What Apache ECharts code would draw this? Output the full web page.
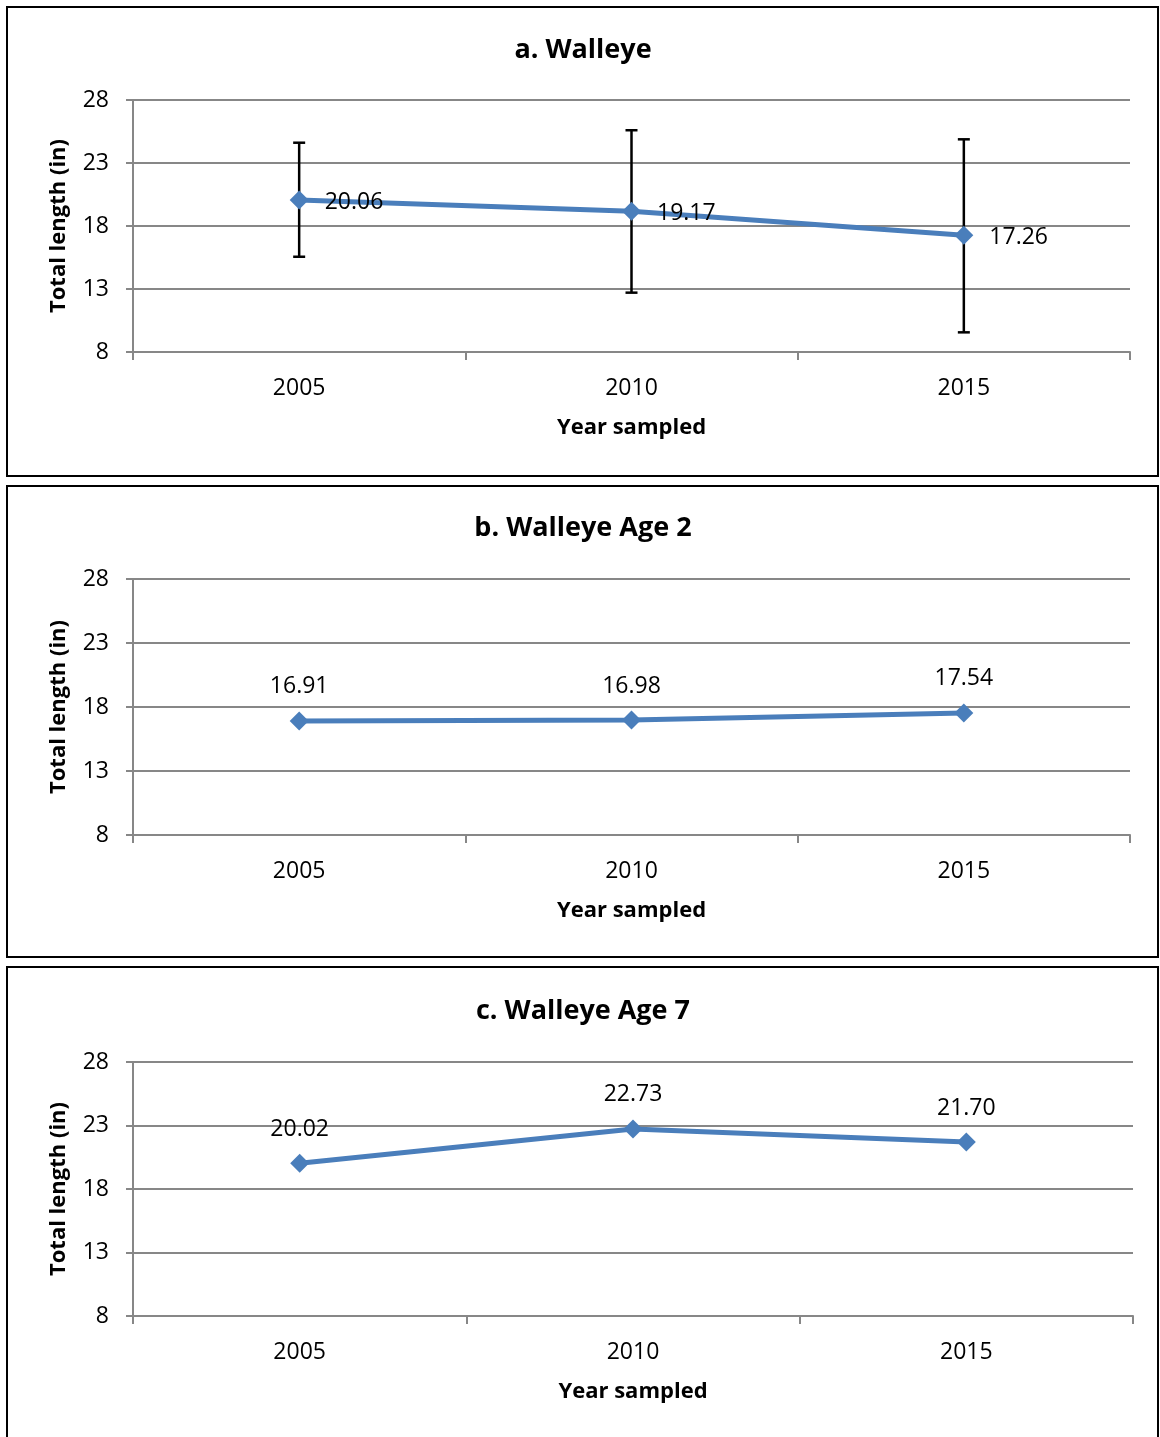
<!DOCTYPE html>
<html>
<head>
<meta charset="utf-8">
<script src="https://cdn.jsdelivr.net/npm/echarts@6/dist/echarts.min.js"></script>
<style>
html,body{margin:0;padding:0;background:#fff;}
#chart{width:1160px;height:1437px;}
</style>
</head>
<body>
<div id="chart"></div>
<script>
// ---- data ----
var years = ['2005', '2010', '2015'];
var titles = ['a. Walleye', 'b. Walleye Age 2', 'c. Walleye Age 7'];
var walleyeAll = [20.06, 19.17, 17.26];
var walleyeAge2 = [16.91, 16.98, 17.54];
var walleyeAge7 = [20.02, 22.73, 21.70];
var errLow = [15.56, 12.71, 9.56];
var errHigh = [24.61, 25.60, 24.88];
var yTicks = [8, 13, 18, 23, 28];
var yAxisTitle = 'Total length (in)';
var xAxisTitle = 'Year sampled';

var FONT = '"Open Sans", "Noto Sans", sans-serif';
var GRID_COLOR = '#878787';
var LINE_COLOR = '#4a7ebb';

var panels = [
  {grid: {left: 133, top: 100, width: 997, height: 252}, data: walleyeAll, labelPos: 'right', titleTop: 32, box: [7, 7, 1151, 469]},
  {grid: {left: 133, top: 579, width: 997, height: 256}, data: walleyeAge2, labelPos: 'top', titleTop: 510, box: [7, 486, 1151, 471]},
  {grid: {left: 133, top: 1062, width: 1000, height: 254}, data: walleyeAge7, labelPos: 'top', titleTop: 993, box: [7, 967, 1151, 480]}
];

var grids = [], xAxes = [], yAxes = [], series = [], titleOpts = [], graphics = [];

panels.forEach(function (p, i) {
  grids.push(p.grid);
  titleOpts.push({
    text: titles[i],
    left: 578, top: p.titleTop, textAlign: 'center',
    textStyle: {fontFamily: FONT, fontSize: 27, fontWeight: 'bold', color: '#000'}
  });
  graphics.push({
    type: 'rect', silent: true,
    shape: {x: p.box[0], y: p.box[1], width: p.box[2], height: p.box[3]},
    style: {fill: 'none', stroke: '#000', lineWidth: 2}
  });
  xAxes.push({
    type: 'category', gridIndex: i, data: years, boundaryGap: true,
    name: xAxisTitle, nameLocation: 'middle', nameGap: 65,
    nameTextStyle: {fontFamily: FONT, fontSize: 22, fontWeight: 'bold', color: '#000'},
    axisLine: {show: true, lineStyle: {color: GRID_COLOR, width: 2}},
    axisTick: {show: true, length: 8, alignWithLabel: false, lineStyle: {color: GRID_COLOR, width: 2}},
    axisLabel: {margin: 25, fontFamily: FONT, fontSize: 23, color: '#000'},
    splitLine: {show: false}
  });
  yAxes.push({
    type: 'value', gridIndex: i, min: yTicks[0], max: yTicks[yTicks.length - 1], interval: 5,
    name: yAxisTitle, nameLocation: 'middle', nameGap: 63,
    nameTextStyle: {fontFamily: FONT, fontSize: 22, fontWeight: 'bold', color: '#000'},
    axisLine: {show: true, lineStyle: {color: GRID_COLOR, width: 2}},
    axisTick: {show: true, length: 7, lineStyle: {color: GRID_COLOR, width: 2}},
    axisLabel: {margin: 24, fontFamily: FONT, fontSize: 23, color: '#000'},
    splitLine: {show: true, lineStyle: {color: GRID_COLOR, width: 2}}
  });
  series.push({
    type: 'line', xAxisIndex: i, yAxisIndex: i, data: p.data,
    symbol: 'diamond', symbolSize: 19, z: 5,
    lineStyle: {color: LINE_COLOR, width: 5},
    itemStyle: {color: LINE_COLOR},
    label: {
      show: true, position: p.labelPos, distance: p.labelPos === 'right' ? 16 : 13,
      offset: p.labelPos === 'right' ? [0, 2] : [0, 0],
      fontFamily: FONT, fontSize: 23, color: '#000',
      formatter: function (d) { return d.value.toFixed(2); }
    },
    emphasis: {disabled: true},
    animation: false
  });
});

// error bars for panel a
series.push({
  type: 'custom', xAxisIndex: 0, yAxisIndex: 0, z: 2,
  data: years.map(function (y, k) { return [k, errLow[k], errHigh[k]]; }),
  encode: {x: 0, y: [1, 2]},
  renderItem: function (params, api) {
    var lo = api.coord([api.value(0), api.value(1)]);
    var hi = api.coord([api.value(0), api.value(2)]);
    var w = 6;
    var st = {stroke: '#000', lineWidth: 2.5};
    return {type: 'group', children: [
      {type: 'line', shape: {x1: lo[0], y1: lo[1], x2: hi[0], y2: hi[1]}, style: st},
      {type: 'line', shape: {x1: lo[0] - w, y1: lo[1], x2: lo[0] + w, y2: lo[1]}, style: st},
      {type: 'line', shape: {x1: hi[0] - w, y1: hi[1], x2: hi[0] + w, y2: hi[1]}, style: st}
    ]};
  },
  animation: false
});

var chart = echarts.init(document.getElementById('chart'), null, {renderer: 'canvas'});
chart.setOption({
  backgroundColor: '#fff',
  animation: false,
  title: titleOpts,
  grid: grids,
  xAxis: xAxes,
  yAxis: yAxes,
  series: series,
  graphic: graphics
});
</script>
</body>
</html>
